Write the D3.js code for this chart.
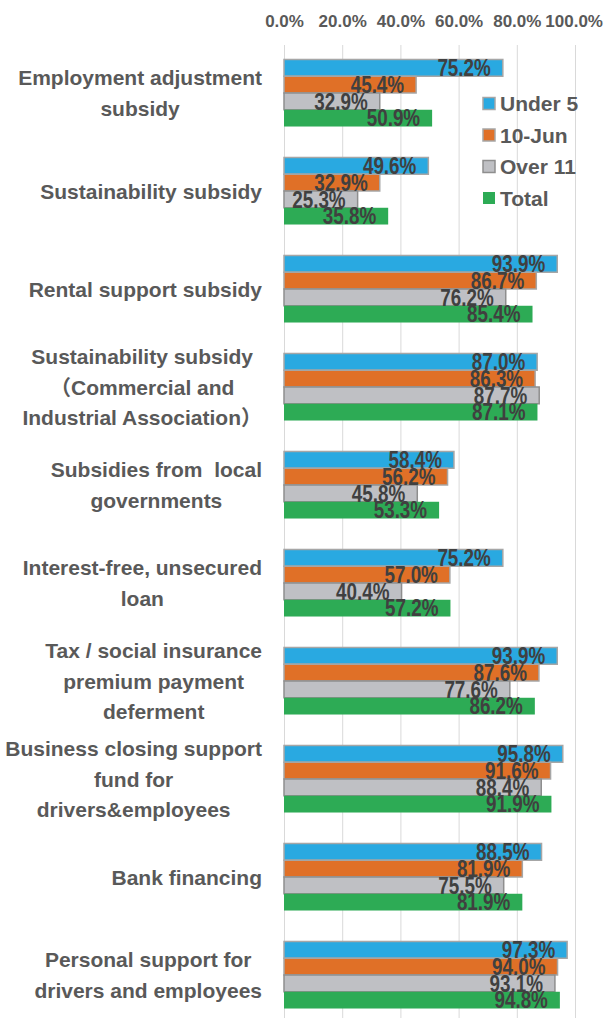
<!DOCTYPE html>
<html>
<head>
<meta charset="utf-8">
<script src="https://cdn.jsdelivr.net/npm/d3@7"></script>
<style>
  html, body { margin: 0; padding: 0; background: #fff; }
  svg { display: block; }
  text { font-family: "Liberation Sans", Arial, "Noto Sans CJK JP", sans-serif; font-weight: bold; white-space: pre; }
</style>
</head>
<body>
<svg id="chart" width="604" height="1018"></svg>
<script>
// ---- data ----
const categories = [
  "Employment adjustment subsidy",
  "Sustainability subsidy",
  "Rental support subsidy",
  "Sustainability subsidy（Commercial and Industrial Association）",
  "Subsidies from  local governments",
  "Interest-free, unsecured loan",
  "Tax / social insurance premium payment deferment",
  "Business closing support fund for drivers&employees",
  "Bank financing",
  "Personal support for drivers and employees"
];
const categoryLines = [
  ["Employment adjustment", "subsidy"],
  ["Sustainability subsidy"],
  ["Rental support subsidy"],
  ["Sustainability subsidy", "（Commercial and", "Industrial Association）"],
  ["Subsidies from  local", "governments"],
  ["Interest-free, unsecured", "loan"],
  ["Tax / social insurance", "premium payment", "deferment"],
  ["Business closing support", "fund for", "drivers&employees"],
  ["Bank financing"],
  ["Personal support for", "drivers and employees"]
];
const seriesNames = ["Under 5", "10-Jun", "Over 11", "Total"];
const under5 = [75.2, 49.6, 93.9, 87.0, 58.4, 75.2, 93.9, 95.8, 88.5, 97.3];
const jun10  = [45.4, 32.9, 86.7, 86.3, 56.2, 57.0, 87.6, 91.6, 81.9, 94.0];
const over11 = [32.9, 25.3, 76.2, 87.7, 45.8, 40.4, 77.6, 88.4, 75.5, 93.1];
const total  = [50.9, 35.8, 85.4, 87.1, 53.3, 57.2, 86.2, 91.9, 81.9, 94.8];
const tickValues = [0, 20, 40, 60, 80, 100];

// ---- styles ----
const fills   = ["#29A9E1", "#E07027", "#BFC0C4", "#2DAB55"];
const strokes = ["#A6A6A6", "#A6A6A6", "#8E8E8E", "none"];

const seriesValues = [under5, jun10, over11, total];
const rows = categories.map((c, i) => ({
  cat: c,
  lines: categoryLines[i],
  vals: seriesNames.map((s, j) => ({ s, j, v: seriesValues[j][i] }))
}));

const W = 604, H = 1018;
const svg = d3.select("#chart");

const x = d3.scaleLinear().domain([0, 100]).range([284, 575]);
const y0 = d3.scaleBand().domain(categories).range([44, 1024])
  .paddingInner(0.316).paddingOuter(0.158);
const y1 = d3.scaleBand().domain(seriesNames).range([0, y0.bandwidth()]);

// axis + gridlines
const axisTop = 45;
const axis = d3.axisTop(x).tickValues(tickValues)
  .tickSize(-(H - axisTop)).tickPadding(18.5)
  .tickFormat(d => d.toFixed(1) + "%");
const ag = svg.append("g").attr("transform", `translate(0,${axisTop})`).call(axis);
ag.select(".domain").remove();
ag.selectAll(".tick line").attr("stroke", "#D9D9D9").attr("stroke-width", 1);
ag.selectAll(".tick text")
  .attr("fill", "#595959").style("font-size", "17px")
  .each(function() {
    const t = d3.select(this);
    const w = this.getComputedTextLength();
    const tx = +d3.select(this.parentNode).attr("transform").match(/translate\(([-\d.]+)/)[1];
    const over = tx + w / 2 - 603;
    if (over > 0) t.attr("x", -over);
  });

// bars
const groups = svg.append("g").selectAll("g").data(rows).join("g")
  .attr("transform", d => `translate(0,${y0(d.cat)})`);

groups.selectAll("rect").data(d => d.vals).join("rect")
  .attr("x", x(0))
  .attr("y", d => y1(d.s))
  .attr("width", d => x(d.v) - x(0))
  .attr("height", y1.bandwidth())
  .attr("fill", d => fills[d.j])
  .attr("stroke", d => strokes[d.j])
  .attr("stroke-width", 1.5);

// data labels
const lblSize = 23;
groups.selectAll("text.val").data(d => d.vals).join("text")
  .attr("class", "val")
  .attr("transform", d => `translate(${x(d.v) - 12},${y1(d.s) + y1.bandwidth() / 2 + lblSize * 0.358}) scale(0.82,1)`)
  .attr("text-anchor", "end")
  .attr("fill", "#404040")
  .style("font-size", lblSize + "px")
  .text(d => d.v.toFixed(1) + "%");

// category labels
const catSize = 21, lineH = 30.5, labelRight = 262;
rows.forEach(r => {
  const cy = y0(r.cat) + y0.bandwidth() / 2;
  const n = r.lines.length;
  const t = svg.append("text")
    .attr("fill", "#595959")
    .attr("text-anchor", "middle")
    .attr("xml:space", "preserve")
    .style("font-size", catSize + "px");
  const spans = r.lines.map((ln, k) => t.append("tspan")
    .attr("y", cy - (n - 1) / 2 * lineH + (k) * lineH + catSize * 0.358)
    .text(ln));
  let maxW = 0;
  spans.forEach(s => { maxW = Math.max(maxW, s.node().getComputedTextLength()); });
  spans.forEach(s => s.attr("x", labelRight - maxW / 2));
});

// legend
const leg = svg.append("g").selectAll("g").data(seriesNames).join("g")
  .attr("transform", (d, i) => `translate(483,${97.5 + i * 31.5})`);
leg.append("rect").attr("width", 12).attr("height", 12)
  .attr("fill", (d, i) => fills[i])
  .attr("stroke", (d, i) => strokes[i]).attr("stroke-width", 1.5);
leg.append("text").attr("x", 17).attr("y", 6 + 21 * 0.358)
  .attr("fill", "#595959").style("font-size", "21px")
  .text(d => d);
</script>
</body>
</html>
